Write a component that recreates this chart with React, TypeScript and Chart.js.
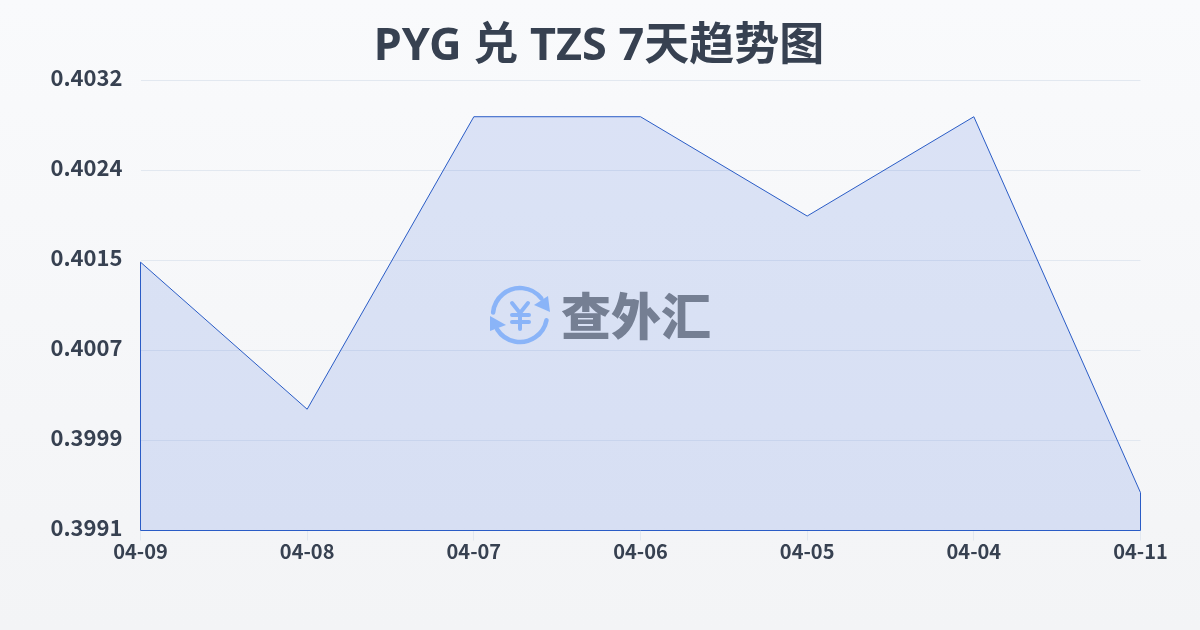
import React, { useEffect, useRef } from "react";
import { Chart, registerables } from "chart.js";

Chart.register(...registerables);

const categories = ["04-09", "04-08", "04-07", "04-06", "04-05", "04-04", "04-11"];
const rates = [0.401545, 0.400205, 0.40287, 0.40287, 0.401965, 0.40287, 0.399445];
const yTickLabels = ["0.3991", "0.3999", "0.4007", "0.4015", "0.4024", "0.4032"];
const yMin = 0.3991;
const yMax = 0.4032;
const titleText = "PYG 兑 TZS 7天趋势图";
const watermarkText = "查外汇";
const LINE = "#2a5cc6";
const FONT = "'Noto Sans', 'Noto Sans CJK SC', sans-serif";
const TICK_FONT = "'Noto Sans CJK SC', 'Noto Sans', sans-serif";

const background = {
  id: "background",
  beforeDraw(chart: any) {
    const { ctx, width, height } = chart;
    const g = ctx.createLinearGradient(0, 0, 0, height);
    g.addColorStop(0, "#f9fafc");
    g.addColorStop(1, "#f3f4f6");
    ctx.save();
    ctx.fillStyle = g;
    ctx.fillRect(0, 0, width, height);
    ctx.restore();
  },
};

const centerTitle = {
  id: "centerTitle",
  afterLayout(chart: any) {
    const t = chart.titleBlock;
    t.left = 0;
    t.right = 1198;
    t.width = 1198;
  },
};

const outline = {
  id: "outline",
  afterDatasetsDraw(chart: any) {
    const { ctx, scales } = chart;
    const pts = chart.getDatasetMeta(0).data;
    const base = scales.y.getPixelForValue(yMin);
    ctx.save();
    ctx.strokeStyle = LINE;
    ctx.lineWidth = 1;
    ctx.beginPath();
    ctx.moveTo(pts[0].x, pts[0].y);
    ctx.lineTo(pts[0].x, base);
    ctx.lineTo(pts[pts.length - 1].x, base);
    ctx.lineTo(pts[pts.length - 1].x, pts[pts.length - 1].y);
    ctx.stroke();
    ctx.restore();
  },
};

const watermark = {
  id: "watermark",
  afterDraw(chart: any) {
    const { ctx } = chart;
    ctx.save();
    ctx.fillStyle = "#757f93";
    ctx.font = "900 50px 'Noto Sans CJK SC'";
    ctx.textAlign = "left";
    ctx.textBaseline = "middle";
    ctx.fillText(watermarkText, 561, 316);

    const blue = "#8ab4f8";
    ctx.strokeStyle = blue;
    ctx.fillStyle = blue;
    ctx.lineWidth = 4.5;
    ctx.lineCap = "round";
    ctx.lineJoin = "round";
    const cx = 520;
    const cy = 315;
    const r = 27;
    ctx.beginPath();
    ctx.arc(cx, cy, r, Math.PI * 1.03, Math.PI * 1.79);
    ctx.stroke();
    ctx.beginPath();
    ctx.arc(cx, cy, r, Math.PI * 0.03 + 0.1, Math.PI * 0.82);
    ctx.stroke();
    ctx.beginPath();
    ctx.moveTo(548, 296);
    ctx.lineTo(550, 312);
    ctx.lineTo(534, 305);
    ctx.closePath();
    ctx.fill();
    ctx.beginPath();
    ctx.moveTo(490, 316);
    ctx.lineTo(490, 331);
    ctx.lineTo(506, 325);
    ctx.closePath();
    ctx.fill();
    ctx.lineWidth = 4;
    ctx.beginPath();
    ctx.moveTo(512, 303);
    ctx.lineTo(520, 313);
    ctx.lineTo(528, 303);
    ctx.moveTo(520, 313);
    ctx.lineTo(520, 329);
    ctx.moveTo(512, 315);
    ctx.lineTo(529, 315);
    ctx.moveTo(512, 322);
    ctx.lineTo(529, 322);
    ctx.stroke();
    ctx.restore();
  },
};

export default function App() {
  const ref = useRef<HTMLCanvasElement | null>(null);
  useEffect(() => {
    document.body.style.margin = "0";
    const chart = new Chart(ref.current as HTMLCanvasElement, {
      type: "line",
      data: {
        labels: categories,
        datasets: [
          {
            data: rates,
            borderColor: LINE,
            borderWidth: 1,
            backgroundColor: "rgba(42,90,218,0.14)",
            fill: "start",
            tension: 0,
            pointRadius: 0,
          },
        ],
      },
      options: {
        responsive: false,
        animation: false,
        layout: { padding: { left: 0, right: 59.5, top: 0, bottom: 0 } },
        plugins: {
          legend: { display: false },
          tooltip: { enabled: false },
          title: {
            display: true,
            text: titleText,
            color: "#374151",
            font: { family: FONT, size: 45, weight: "bold", lineHeight: 1.2 },
            padding: { top: 20, bottom: 6.5 },
          },
        },
        scales: {
          x: {
            offset: false,
            afterFit(s: any) {
              s.height = 99.5;
            },
            border: { display: false },
            grid: { drawOnChartArea: false, drawTicks: true, tickLength: 10, color: "#e2e8f0" },
            ticks: {
              autoSkip: false,
              maxRotation: 0,
              padding: -1,
              color: "#374151",
              font: { family: TICK_FONT, size: 20, weight: "bold" },
            },
          },
          y: {
            min: yMin,
            max: yMax,
            afterFit(s: any) {
              s.width = 140.5;
            },
            afterBuildTicks(s: any) {
              s.ticks = yTickLabels.map((_, i) => ({
                value: yMin + (i * (yMax - yMin)) / (yTickLabels.length - 1),
              }));
            },
            border: { display: false },
            grid: { drawTicks: false, color: "#e2e8f0" },
            ticks: {
              padding: 18,
              labelOffset: -3,
              color: "#374151",
              font: { family: TICK_FONT, size: 22, weight: "bold" },
              callback: (_v: any, i: number) => yTickLabels[i],
            },
          },
        },
      },
      plugins: [background, centerTitle, outline, watermark],
    } as any);
    return () => chart.destroy();
  }, []);
  return <canvas ref={ref} width={1200} height={630} style={{ display: "block" }} />;
}
